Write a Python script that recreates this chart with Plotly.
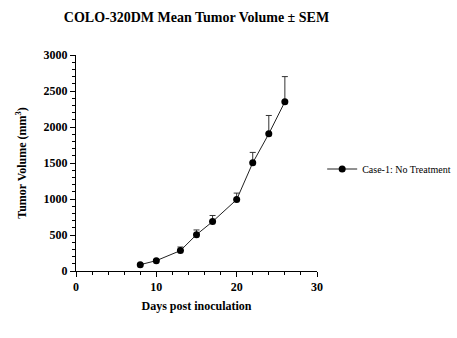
import plotly.graph_objects as go

days = [8, 10, 13, 15, 17, 20, 22, 24, 26]
mean_volume = [88, 144, 283, 505, 686, 992, 1502, 1905, 2350]
sem = [10, 15, 50, 65, 85, 90, 145, 255, 350]
series_name = "Case-1: No Treatment"
x_ticks = [0, 10, 20, 30]
y_ticks = [0, 500, 1000, 1500, 2000, 2500, 3000]

font_family = "Liberation Serif, Times New Roman, serif"

fig = go.Figure()
fig.add_trace(go.Scatter(
    x=days, y=mean_volume, mode="lines+markers", name=series_name,
    line=dict(color="#222222", width=1),
    marker=dict(color="black", size=7, symbol="circle"),
    error_y=dict(type="data", array=sem, arrayminus=[0]*len(sem), symmetric=False,
                 color="#333333", thickness=1, width=3),
))

fig.update_layout(
    width=457, height=338,
    margin=dict(l=76, r=140, t=55, b=67, autoexpand=False),
    paper_bgcolor="white", plot_bgcolor="white",
    font=dict(family=font_family, color="black"),
    title=dict(text="<b>COLO-320DM Mean Tumor Volume ± SEM</b>",
               x=0.5, xref="paper", xanchor="center", y=0.95, yref="container",
               yanchor="middle", font=dict(size=14, family=font_family, color="black")),
    showlegend=True,
    legend=dict(x=0.705, y=0.5, xref="container", yref="container", xanchor="left", yanchor="middle",
                font=dict(size=10, family=font_family), itemwidth=30,
                bgcolor="rgba(0,0,0,0)"),
    xaxis=dict(range=[0, 30], tickvals=x_ticks, ticktext=[f"<b>{v}</b>" for v in x_ticks],
               ticks="outside", ticklen=5,
               tickwidth=1, tickcolor="black", showline=True, linecolor="black", linewidth=1,
               showgrid=False, zeroline=False,
               minor=dict(dtick=2, ticks="outside", ticklen=3, tickcolor="black", tickwidth=1),
               tickfont=dict(size=12, family=font_family),
               title=dict(text="<b>Days post inoculation</b>", font=dict(size=12, family=font_family), standoff=8)),
    yaxis=dict(range=[0, 3000], tickvals=y_ticks, ticktext=[f"<b>{v}</b>" for v in y_ticks],
               ticks="outside",
               ticklen=5, tickwidth=1, tickcolor="black", showline=True, linecolor="black",
               linewidth=1, showgrid=False, zeroline=False,
               minor=dict(dtick=100, ticks="outside", ticklen=3, tickcolor="black", tickwidth=1),
               tickfont=dict(size=12, family=font_family),
               title=dict(text="<b>Tumor Volume (mm<sup>3</sup>)</b>", font=dict(size=12, family=font_family), standoff=14)),
)

fig.write_html("out.html")
